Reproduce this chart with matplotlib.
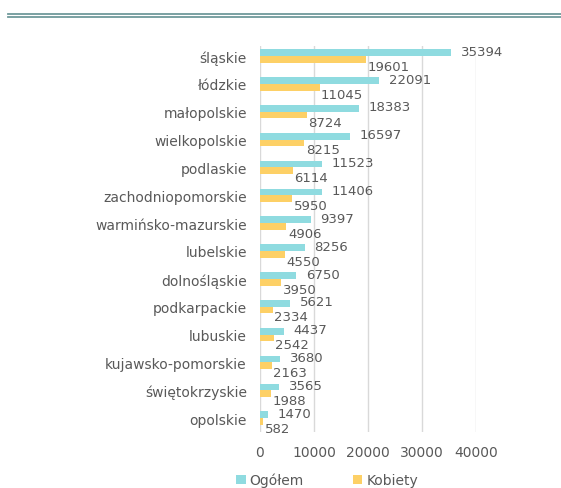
import matplotlib.pyplot as plt
from matplotlib.lines import Line2D

regions = ["śląskie", "łódzkie", "małopolskie", "wielkopolskie", "podlaskie",
           "zachodniopomorskie", "warmińsko-mazurskie", "lubelskie", "dolnośląskie",
           "podkarpackie", "lubuskie", "kujawsko-pomorskie", "świętokrzyskie", "opolskie"]
ogolem = [35394, 22091, 18383, 16597, 11523, 11406, 9397, 8256, 6750, 5621, 4437, 3680, 3565, 1470]
kobiety = [19601, 11045, 8724, 8215, 6114, 5950, 4906, 4550, 3950, 2334, 2542, 2163, 1988, 582]
ticks = [0, 10000, 20000, 30000, 40000]

cyan = "#8fdbe0"
yellow = "#fdd066"
txt = "#595959"

plt.rcParams["font.family"] = ["DejaVu Sans"]

fig = plt.figure(figsize=(5.61, 4.89), dpi=100)
ax = fig.add_axes([260 / 561, 1 - 433 / 489, 216 / 561, 386 / 489])

y = list(range(len(regions)))
h = 0.24
ax.barh([i - h / 2 for i in y], ogolem, height=h, color=cyan, label="Ogółem", zorder=3)
ax.barh([i + h / 2 for i in y], kobiety, height=h, color=yellow, label="Kobiety", zorder=3)

# etykiety wartości
for i, (o, k) in enumerate(zip(ogolem, kobiety)):
    ax.annotate(str(o), (o, i - h / 2), xytext=(7, 1), textcoords="offset points",
                va="center", ha="left", fontsize=9.5, color=txt)
    ax.annotate(str(k), (k, i + h / 2), xytext=(1, -5), textcoords="offset points",
                va="center", ha="left", fontsize=9.5, color=txt)

ax.set_xlim(0, 40000)
ax.set_ylim(13.5, -0.36)
ax.set_xticks(ticks)
ax.set_xticklabels([str(t) for t in ticks])
ax.set_yticks(y)
ax.set_yticklabels(regions)
ax.tick_params(axis="both", length=0, labelsize=10, labelcolor=txt)
ax.tick_params(axis="y", pad=9.5)
ax.tick_params(axis="x", pad=9.5)
ax.grid(axis="x", color="#d9d9d9", linewidth=1, zorder=0)
for s in ax.spines.values():
    s.set_visible(False)

fig.legend(loc="center", bbox_to_anchor=(327 / 561, 1 - 481 / 489), ncol=2, frameon=False,
           handlelength=0.7, handleheight=0.7, handletextpad=0.3, columnspacing=3.5,
           fontsize=10, labelcolor=txt)

# podwójna linia u góry
for yy in (15, 18):
    fig.add_artist(Line2D([8 / 561, 1], [1 - yy / 489] * 2, color="#6f9a9b", linewidth=1.3))

fig.savefig("out.png", dpi=100)
